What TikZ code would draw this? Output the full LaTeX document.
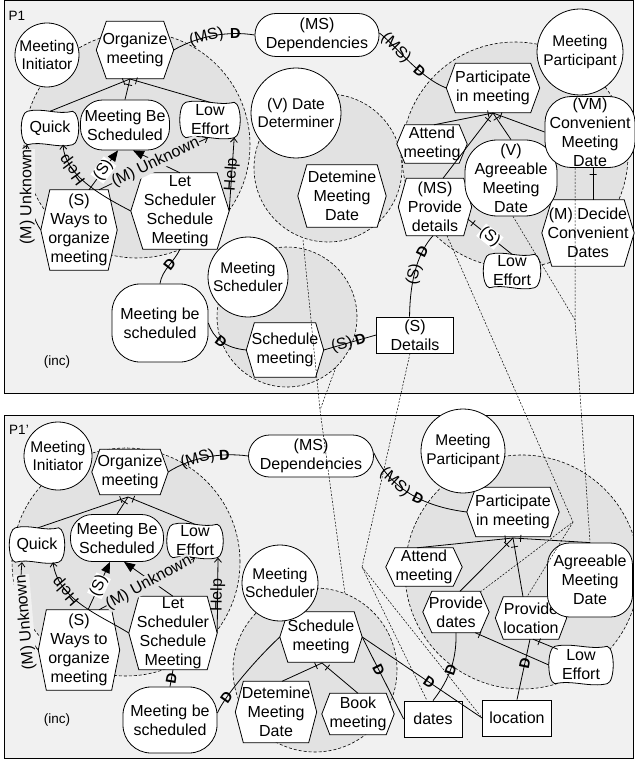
\documentclass[tikz,border=0pt]{standalone}
\usepackage{fontspec}
\setmainfont{Liberation Sans}
\usetikzlibrary{arrows.meta,calc}
\definecolor{panelbg}{gray}{0.945}
\definecolor{boundbg}{gray}{0.885}
\pgfdeclarelayer{bg}
\pgfdeclarelayer{mid}
\pgfdeclarelayer{maps}
\pgfsetlayers{bg,mid,main,maps}
\newcommand\hexdraw[2]{%
  \draw[line width=0.8pt, fill=white] (#1.west) -- ($(#1.north west)+(#2,0)$) -- ($(#1.north east)+(-#2,0)$) -- (#1.east) -- ($(#1.south east)+(-#2,0)$) -- ($(#1.south west)+(#2,0)$) -- cycle;}
\newcommand\sgdraw[1]{%
  \draw[line width=0.8pt, fill=white]
   ($(#1.north west)+(3,0)$)
   .. controls ($(#1.north west)!0.35!(#1.north east)+(0,-4)$) and ($(#1.north west)!0.65!(#1.north east)+(0,4)$) .. ($(#1.north east)+(-3,0)$)
   .. controls ($(#1.north east)+(5,2)$) and ($(#1.south east)+(5,-2)$) .. ($(#1.south east)+(-3,0)$)
   .. controls ($(#1.south west)!0.65!(#1.south east)+(0,4)$) and ($(#1.south west)!0.35!(#1.south east)+(0,-4)$) .. ($(#1.south west)+(3,0)$)
   .. controls ($(#1.south west)+(-5,-2)$) and ($(#1.north west)+(-5,2)$) .. cycle;}
\begin{document}
\begin{tikzpicture}[x=1pt,y=-1pt,
  every node/.style={font=\fontsize{16}{19}\selectfont, align=center, inner sep=0pt},
  txt/.style={rectangle, inner sep=0pt},
  goalnd/.style={rectangle, draw, fill=white, line width=0.8pt, rounded corners=#1},
  goalnd/.default=20pt,
  resnd/.style={rectangle, draw, fill=white, line width=0.8pt},
  actornd/.style={circle, draw, fill=white, line width=0.8pt, font=\fontsize{15.5}{18.5}\selectfont},
  bnd/.style={draw, dash pattern=on 3pt off 2pt, line width=0.6pt, fill=boundbg},
  lk/.style={line width=0.8pt},
  me/.style={line width=0.8pt, -{Triangle[length=11pt,width=9pt]}},
  ct/.style={line width=0.8pt, -{Straight Barb[length=4pt,width=7pt]}},
  dm/.style={font=\bfseries\fontsize{14.5}{14.5}\selectfont, sloped, inner sep=0pt},
  lb/.style={sloped, inner sep=0.5pt},
  tk/.style={draw, line width=0.8pt, minimum width=0pt, minimum height=7pt, inner sep=0pt, sloped},
  mpl/.style={line width=0.5pt, dash pattern=on 2pt off 1.5pt},
  small/.style={font=\fontsize{13.5}{14}\selectfont}
]
\useasboundingbox (0,0) rectangle (634,759);
% ---------------- backgrounds
\begin{pgfonlayer}{bg}
 \fill[panelbg] (4.5,0.5) rectangle (633.5,393);
 \fill[panelbg] (4.5,415) rectangle (633.5,758.5);
 \begin{scope}
  \clip (4.5,0.5) rectangle (633.5,393);
  \path[bnd] (137,145) circle[radius=113pt];
  \path[bnd] (328,168) circle[radius=74pt];
  \path[bnd] (287,317) circle[radius=70pt];
  \path[bnd] (515,155) circle[radius=113pt];
 \end{scope}
 \begin{scope}
  \clip (4.5,415) rectangle (633.5,758.5);
  \path[bnd] (126,562) circle[radius=114pt];
  \path[bnd] (315,670) circle[radius=82pt];
  \path[bnd] (522,572) circle[radius=117pt];
 \end{scope}
 \draw[line width=0.8pt] (4.5,0.5) rectangle (633.5,393);
 \draw[line width=0.8pt] (4.5,415) rectangle (633.5,758.5);
\end{pgfonlayer}
% ---------------- top panel nodes
\node[small] (p1) at (17,16) {P1};
\node[small] (inc1) at (57,362) {(inc)};
\node[actornd, minimum size=64pt] (mi1) at (47,55) {Meeting\\Initiator};
\node[actornd, minimum size=90pt] (dd1) at (296,113) {(V) Date\\Determiner};
\node[actornd, minimum size=80pt] (ms1) at (248,277) {Meeting\\Scheduler};
\node[actornd, minimum size=86pt] (mp1) at (580,52) {Meeting\\Participant};
\node[txt, minimum width=77pt, minimum height=57pt] (org1) at (135,50) {Organize\\meeting};
\node[goalnd=22pt, minimum width=89pt, minimum height=50pt] (mbs1) at (125,125) {Meeting Be\\Scheduled};
\node[txt, minimum width=51pt, minimum height=33pt] (q1) at (50,128) {Quick};
\node[txt, minimum width=54pt, minimum height=35pt] (le1) at (210,120) {Low\\Effort};
\node[txt, minimum width=98pt, minimum height=76pt] (ls1) at (180,211) {Let\\Scheduler\\Schedule\\Meeting};
\node[txt, minimum width=76pt, minimum height=80pt] (w1) at (79,230) {(S)\\Ways to\\organize\\meeting};
\node[goalnd=28pt, minimum width=96pt, minimum height=78pt] (mbsd1) at (160,323) {Meeting be\\scheduled};
\node[txt, minimum width=77pt, minimum height=54pt] (sm1) at (285,350) {Schedule\\meeting};
\node[resnd, minimum width=77pt, minimum height=36pt] (det1) at (415,335) {(S)\\Details};
\node[txt, minimum width=73pt, minimum height=57pt] (pd1) at (435,207) {(MS)\\Provide\\details};
\node[txt, minimum width=88pt, minimum height=62pt] (dmd1) at (342,196) {Detemine\\Meeting\\Date};
\node[goalnd=21pt, minimum width=124pt, minimum height=43pt] (dep1) at (317,35) {(MS)\\Dependencies};
\node[txt, minimum width=93pt, minimum height=49pt] (pim1) at (493,88) {Participate\\in meeting};
\node[txt, minimum width=70pt, minimum height=38pt] (att1) at (432,144) {Attend\\meeting};
\node[goalnd=32pt, minimum width=92pt, minimum height=76pt] (amd1) at (511,178) {(V)\\Agreeable\\Meeting\\Date};
\node[goalnd=26pt, minimum width=90pt, minimum height=71pt] (cmd1) at (590,132) {(VM)\\Convenient\\Meeting\\Date};
\node[txt, minimum width=92pt, minimum height=66pt] (dcd1) at (588,233) {(M) Decide\\Convenient\\Dates};
\node[txt, minimum width=51pt, minimum height=33pt] (le2) at (512,271) {Low\\Effort};
% ---------------- bottom panel nodes
\node[small] (p2) at (19,430) {P1'};
\node[small] (inc2) at (57,720) {(inc)};
\node[actornd, minimum size=68pt] (mi2) at (58,456) {Meeting\\Initiator};
\node[actornd, minimum size=76pt] (ms2) at (280,583) {Meeting\\Scheduler};
\node[actornd, minimum size=84pt] (mp2) at (463,451) {Meeting\\Participant};
\node[txt, minimum width=76pt, minimum height=45pt] (org2) at (130,472) {Organize\\meeting};
\node[txt, minimum width=49pt, minimum height=34pt] (q2) at (37,545) {Quick};
\node[goalnd=22pt, minimum width=93pt, minimum height=47pt] (mbs2) at (117,538) {Meeting Be\\Scheduled};
\node[txt, minimum width=50pt, minimum height=33pt] (le3) at (195,541) {Low\\Effort};
\node[txt, minimum width=81pt, minimum height=80pt] (w2) at (79,650) {(S)\\Ways to\\organize\\meeting};
\node[txt, minimum width=88pt, minimum height=73pt] (ls2) at (173,633) {Let\\Scheduler\\Schedule\\Meeting};
\node[goalnd=28pt, minimum width=94pt, minimum height=66pt] (mbsd2) at (170,720) {Meeting be\\scheduled};
\node[txt, minimum width=82pt, minimum height=50pt] (sm2) at (321,637) {Schedule\\meeting};
\node[txt, minimum width=81pt, minimum height=61pt] (dmd2) at (276,712) {Detemine\\Meeting\\Date};
\node[txt, minimum width=72pt, minimum height=41pt] (bk2) at (358,714) {Book\\meeting};
\node[resnd, minimum width=58pt, minimum height=36pt] (dates2) at (433,719) {dates};
\node[resnd, minimum width=69pt, minimum height=36pt] (loc2) at (517,718) {location};
\node[txt, minimum width=66pt, minimum height=41pt] (pdt2) at (456,612) {Provide\\dates};
\node[txt, minimum width=71pt, minimum height=42pt] (plc2) at (531,618) {Provide\\location};
\node[txt, minimum width=58pt, minimum height=37pt] (le4) at (581,665) {Low\\Effort};
\node[txt, minimum width=76pt, minimum height=38pt] (att2) at (424,567) {Attend\\meeting};
\node[goalnd=22pt, minimum width=85pt, minimum height=74pt] (amd2) at (590,580) {Agreeable\\Meeting\\Date};
\node[txt, minimum width=92pt, minimum height=49pt] (pim2) at (513,512) {Participate\\in meeting};
\node[goalnd=21pt, minimum width=125pt, minimum height=42pt] (dep2) at (311,456) {(MS)\\Dependencies};
% ---------------- task and softgoal outlines
\begin{pgfonlayer}{mid}
 \hexdraw{org1}{10} \hexdraw{ls1}{12} \hexdraw{w1}{9} \hexdraw{sm1}{8}
 \hexdraw{pd1}{8} \hexdraw{dmd1}{9} \hexdraw{pim1}{9} \hexdraw{att1}{8} \hexdraw{dcd1}{10}
 \hexdraw{org2}{8} \hexdraw{w2}{8} \hexdraw{ls2}{10} \hexdraw{sm2}{8} \hexdraw{dmd2}{8}
 \hexdraw{bk2}{8} \hexdraw{pdt2}{9} \hexdraw{plc2}{8} \hexdraw{att2}{9} \hexdraw{pim2}{9}
 \sgdraw{q1} \sgdraw{le1} \sgdraw{le2} \sgdraw{q2} \sgdraw{le3} \sgdraw{le4}
\end{pgfonlayer}
% ---------------- mapping lines between the two models (drawn on top)
\begin{pgfonlayer}{maps}
 \coordinate (ma1) at (303,240); \coordinate (ma2) at (336,367);
 \coordinate (J4) at (320,410); \coordinate (mb1) at (345,594);
 \draw[mpl] (ma1) -- (J4) -- (mb1);
 \draw[mpl] (ma2) -- (J4);
 \coordinate (J2) at (362,567);
 \draw[mpl] ($(det1.south)+(-5,0)$) -- (J2) -- ($(dates2.north)+(-6,0)$);
 \draw[mpl] (J2) -- (loc2.west);
 \coordinate (J3) at (573,522);
 \draw[mpl] ($(pd1.south)+(12,0)$) -- (J3) -- ($(pdt2.north east)+(-8,0)$);
 \draw[mpl] (J3) -- ($(plc2.north)+(-4,0)$);
 \coordinate (J1) at (575,320);
 \draw[mpl] ($(amd1.south)+(2,0)$) -- (J1);
 \draw[mpl] ($(cmd1.south)+(-15,0)$) -- (J1) -- (amd2.north);
\end{pgfonlayer}
% ---------------- top panel links
\coordinate (jo1) at (130,79);
\draw[lk] (q1.north) -- (jo1) node[tk,pos=0.92]{};
\draw[lk] (mbs1.north) -- (jo1) node[tk,pos=0.72]{};
\draw[lk] (le1.north) -- (jo1) node[tk,pos=0.92]{};
\draw[me] ($(w1.north)+(10,0)$) -- node[lb,fill=white]{(S)} ($(mbs1.south)+(-7,0)$);
\draw[me] (ls1.north) -- ($(mbs1.south)+(8,0)$);
\draw[ct] ($(w1.north)+(20,0)$) -- node[lb,fill=boundbg,pos=0.52]{(M) Unknown} ($(le1.south)+(-2,0)$);
\draw[ct] (ls1.west) .. controls (100,195) and (65,175) .. ($(q1.south)+(13,0)$) node[lb,pos=0.7,allow upside down]{Help};
\draw[ct] (ls1.east) -- node[lb]{Help} ($(le1.south east)+(-3,0)$);
\draw[ct] (w1.west) .. controls (28,212) and (22,170) .. ($(q1.south)+(-23,0)$) node[pos=0.5,rotate=90,xshift=-7pt,fill=panelbg,inner sep=0.5pt]{(M) Unknown};
\draw[lk] (ls1.south) .. controls (174,262) and (162,270) .. (mbsd1.north) node[dm,pos=0.45]{D};
\draw[lk] (mbsd1.east) .. controls (213,338) and (225,348) .. (sm1.west) node[dm,pos=0.5]{D};
\draw[lk] (sm1.east) -- node[lb,pos=0.35]{(S)} node[dm,pos=0.7]{D} (det1.west);
\draw[lk] ($(det1.north west)!0.43!(det1.north east)$) .. controls (410,275) and (420,250) .. ($(pd1.south)+(-2,0)$) node[lb,pos=0.4]{(S)} node[dm,pos=0.7]{D};
\draw[lk] (org1.east) .. controls (200,35) and (230,31) .. (dep1.west) node[lb,pos=0.4]{(MS)} node[dm,pos=0.75]{D};
\draw[lk] ($(dep1.east)+(0,-2)$) .. controls (395,45) and (420,78) .. (pim1.west) node[lb,pos=0.3]{(MS)} node[dm,pos=0.65]{D};
\coordinate (jp1) at (493,113);
\draw[lk] ($(att1.north)+(2,0)$) -- (jp1) node[tk,pos=0.92]{};
\draw[lk] ($(pd1.north)+(8,0)$) -- (jp1) node[tk,pos=0.9]{};
\draw[lk] (amd1.north) -- (jp1) node[tk,pos=0.8]{};
\draw[lk] (cmd1.west) -- (jp1) node[tk,pos=0.85]{};
\draw[lk] ($(cmd1.south)+(3,0)$) -- node[tk,pos=0.2]{} ($(dcd1.north)+(5,0)$);
\draw[lk] ($(pd1.east)+(-4,12)$) -- node[tk,pos=0.12]{} node[lb,fill=white,pos=0.5]{(S)} (le2.north);
% ---------------- bottom panel links
\coordinate (jo2) at (128,497);
\draw[lk] ($(q2.north)+(1,0)$) -- (jo2) node[tk,pos=0.92]{};
\draw[lk] (mbs2.north) -- (jo2) node[tk,pos=0.7]{};
\draw[lk] (le3.north) -- (jo2) node[tk,pos=0.92]{};
\draw[me] ($(w2.north)+(9,0)$) -- node[lb,fill=white]{(S)} ($(mbs2.south)+(-7,0)$);
\draw[me] (ls2.north) -- ($(mbs2.south)+(7,0)$);
\draw[ct] ($(w2.north)+(20,0)$) -- node[lb,fill=boundbg,pos=0.52]{(M) Unknown} (le3.south);
\draw[ct] (ls2.west) .. controls (100,615) and (58,600) .. ($(q2.south)+(16,0)$) node[lb,pos=0.7,allow upside down]{Help};
\draw[ct] (ls2.east) -- node[lb]{Help} ($(le3.south)+(23,0)$);
\draw[ct] (w2.west) .. controls (28,640) and (18,600) .. ($(q2.south)+(-15,0)$) node[pos=0.5,rotate=95,xshift=-6pt,fill=panelbg,inner sep=0.5pt]{(M) Unknown};
\draw[lk] (ls2.south) -- (mbsd2.north) node[dm,pos=0.5]{D};
\draw[lk] ($(mbsd2.east)+(0,-7)$) .. controls (224,697) and (255,660) .. (sm2.west) node[dm,pos=0.25]{D};
\coordinate (js2) at (322,663);
\draw[lk] ($(dmd2.north)+(6,0)$) -- (js2) node[tk,pos=0.85]{};
\draw[lk] (bk2.north) -- (js2) node[tk,pos=0.85]{};
\draw[lk] (sm2.east) -- node[dm,pos=0.4]{D} (dates2.west);
\draw[lk] (sm2.east) -- node[dm,pos=0.56]{D} (loc2.west);
\draw[lk] (dates2.north) .. controls (445,685) and (457,665) .. (pdt2.south) node[dm,pos=0.55]{D};
\draw[lk] (loc2.north) -- node[dm,pos=0.6]{D} ($(plc2.south)+(-1,0)$);
\draw[lk] ($(pdt2.south east)+(-14,0)$) -- node[tk,pos=0.06]{} ($(le4.west)+(-3,0)$);
\draw[lk] ($(plc2.south)+(2,0)$) -- node[tk,pos=0.25]{} ($(le4.north west)+(6,3)$);
\coordinate (jp2) at (513,538);
\draw[lk] ($(att2.north)+(-7,0)$) -- (jp2) node[tk,pos=0.92]{};
\draw[lk] ($(pdt2.north)+(4,0)$) -- (jp2) node[tk,pos=0.88]{};
\draw[lk] ($(plc2.north)+(-8,0)$) -- (jp2) node[tk,pos=0.85]{};
\draw[lk] (amd2.north) -- (jp2) node[tk,pos=0.9]{};
\draw[lk] (org2.east) .. controls (190,458) and (220,452) .. (dep2.west) node[lb,pos=0.4]{(MS)} node[dm,pos=0.72]{D};
\draw[lk] ($(dep2.east)+(0,-3)$) .. controls (385,478) and (410,505) .. (pim2.west) node[lb,pos=0.4]{(MS)} node[dm,pos=0.65]{D};
\end{tikzpicture}
\end{document}
